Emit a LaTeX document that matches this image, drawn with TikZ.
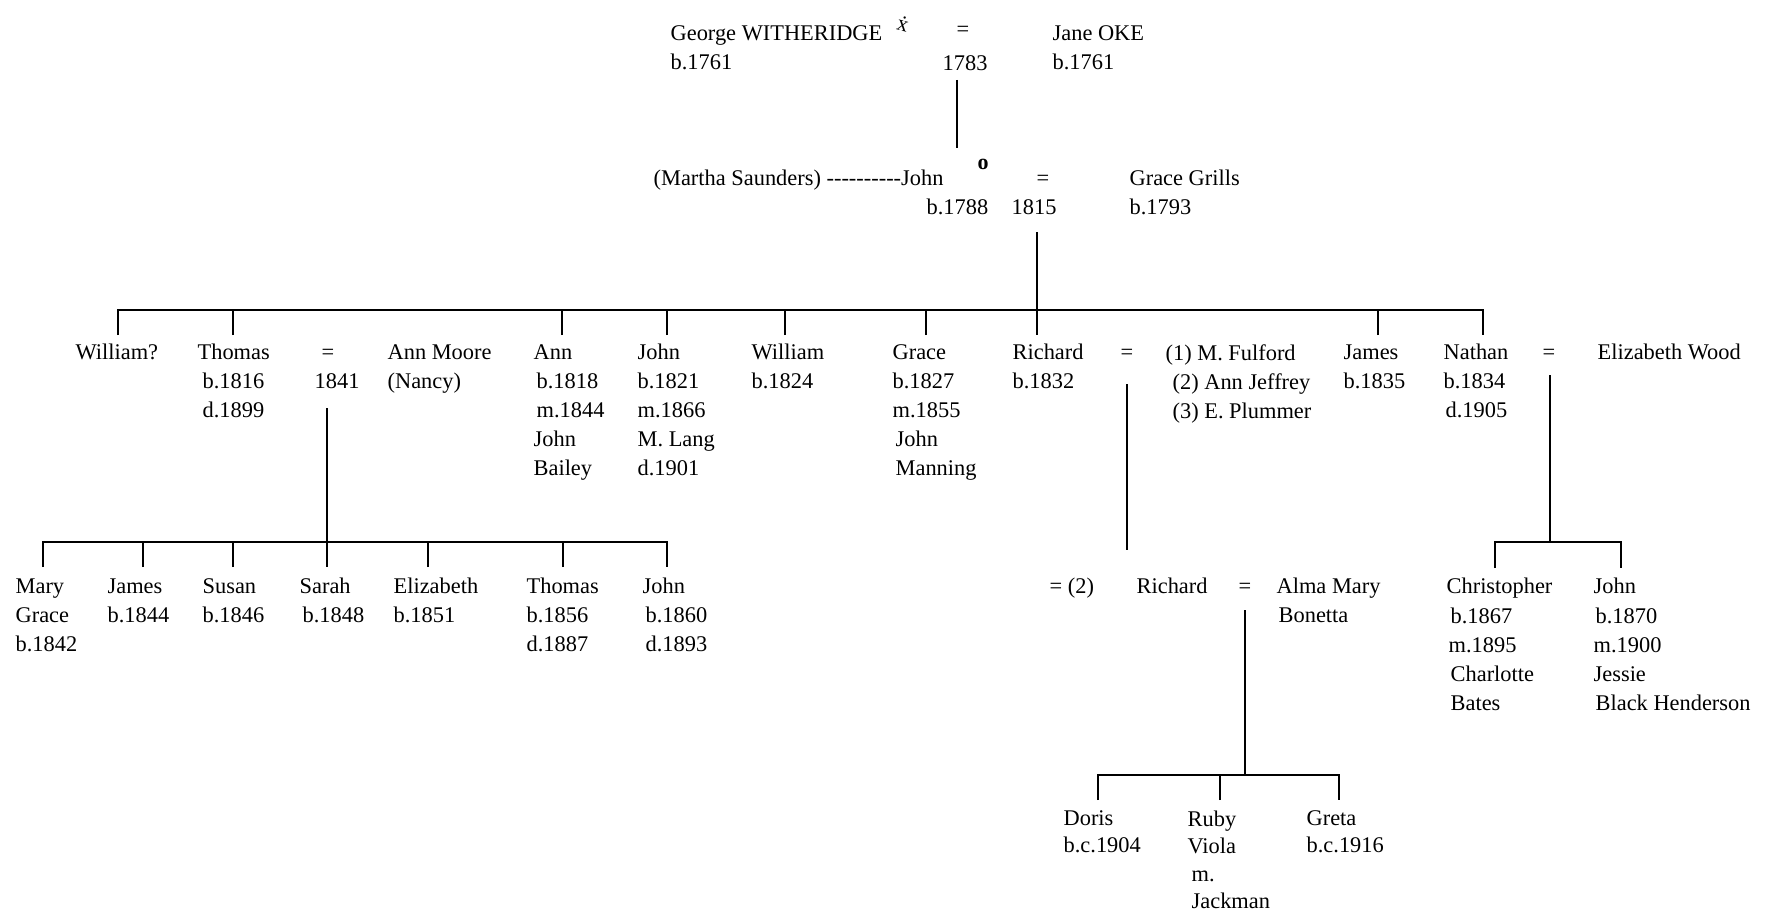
\documentclass[tikz,border=0pt]{standalone}
\usepackage{fontspec}
\setmainfont{Liberation Serif}
\newcommand\dashrun{\hbox{-}\hbox{-}\hbox{-}\hbox{-}\hbox{-}\hbox{-}\hbox{-}\hbox{-}\hbox{-}\hbox{-}}

\begin{document}
\begin{tikzpicture}[x=1pt,y=-1pt,line width=1.3pt,
  every node/.style={font=\fontsize{22.4}{29}\selectfont,inner sep=0pt},
  person/.style={anchor=north west,align=left,yshift=15.2pt},
  tight/.style={font=\fontsize{22.4}{27.5}\selectfont},
  eq/.style={anchor=base},
  hand/.style={font=\fontsize{22}{22}\selectfont}]
\useasboundingbox (0,0) rectangle (1766,915);

% George = Jane
\node[person] (george) at (670,40) {George WITHERIDGE\\b.1761};
\node[hand,rotate=-15] (xmark) at (903,24) {\.{x}};
\node[eq] (wed0) at (963,37) {=};
\node[person] (y1783) at (942,70) {1783};
\node[person] (jane) at (1052,40) {Jane OKE\\b.1761};

% John = Grace Grills
\node[person] (martha) at (653,185) {(Martha Saunders) \dashrun John};
\node[hand] (omark) at (983,164) {\textbf{o}};
\node[eq] (wed1) at (1043,185) {=};
\node[person] (john0) at (926,214) {b.1788};
\node[person] (y1815) at (1011,214) {1815};
\node[person] (grace0) at (1129,185) {Grace Grills\\b.1793};

% their children
\node[person] (william0) at (75,359) {William?};
\node[person] (thomas) at (197,359) {Thomas\\\hspace{5pt}b.1816\\\hspace{5pt}d.1899};
\node[eq] (wed2) at (328,359) {=};
\node[person] (y1841) at (314,388) {1841};
\node[person] (annmoore) at (387,359) {Ann Moore\\(Nancy)};
\node[person] (ann) at (533,359) {Ann\\\hspace{3pt}b.1818\\\hspace{3pt}m.1844\\John\\Bailey};
\node[person] (john1) at (637,359) {John\\b.1821\\m.1866\\M. Lang\\d.1901};
\node[person] (william1) at (751,359) {William\\b.1824};
\node[person] (grace1) at (892,359) {Grace\\b.1827\\m.1855\\\hspace{3pt}John\\\hspace{3pt}Manning};
\node[person] (richard) at (1012,359) {Richard\\b.1832};
\node[eq] (wed3) at (1127,359) {=};
\node[person] (wives) at (1165,359) {(1) M. Fulford\\\hspace{7pt}(2) Ann Jeffrey\\\hspace{7pt}(3) E. Plummer};
\node[person] (james1) at (1343,359) {James\\b.1835};
\node[person] (nathan) at (1443,359) {Nathan\\b.1834\\\hspace{2pt}d.1905};
\node[eq] (wed5) at (1549,359) {=};
\node[person] (elizabeth) at (1597,359) {Elizabeth Wood};

% Thomas' children
\node[person] (mary) at (15,593) {Mary\\Grace\\b.1842};
\node[person] (james2) at (107,593) {James\\b.1844};
\node[person] (susan) at (202,593) {Susan\\b.1846};
\node[person] (sarah) at (299,593) {Sarah\\\hspace{3pt}b.1848};
\node[person] (elizabeth2) at (393,593) {Elizabeth\\b.1851};
\node[person] (thomas2) at (526,593) {Thomas\\b.1856\\d.1887};
\node[person] (john2) at (642,593) {John\\\hspace{3pt}b.1860\\\hspace{3pt}d.1893};

% Richard's second marriage
\node[person] (second) at (1049,593) {= (2)};
\node[person] (richard2) at (1136,593) {Richard};
\node[eq] (wed4) at (1245,593) {=};
\node[person] (alma) at (1276,593) {Alma Mary\\\hspace{2pt}Bonetta};

% Nathan's children
\node[person] (christopher) at (1446,593) {Christopher\\\hspace{4pt}b.1867\\\hspace{2pt}m.1895\\\hspace{4pt}Charlotte\\\hspace{4pt}Bates};
\node[person] (john3) at (1593,593) {John\\\hspace{2pt}b.1870\\m.1900\\Jessie\\\hspace{2pt}Black Henderson};

% Richard's children
\node[person,tight] (doris) at (1063,825) {Doris\\b.c.1904};
\node[person,tight] (ruby) at (1187,825) {Ruby\\Viola\\\hspace{4pt}m.\\\hspace{4pt}Jackman};
\node[person,tight] (greta) at (1306,825) {Greta\\b.c.1916};

% lines
\coordinate (w0) at (957,80);
\coordinate (c0) at (957,148);
\draw (w0) -- (c0);

\coordinate (w1) at (1037,232);
\coordinate (bar1) at (0,310);
\foreach \n/\x in {wil/118,tho/233,ann/562,joh/667,wiy/785,gra/926,ric/1037,jam/1378,nat/1483}
  \coordinate (k\n) at (\x,335);
\draw (w1) -- (kric);
\draw (kwil) -- (kwil |- bar1) -- (knat |- bar1) -- (knat);
\foreach \n in {tho,ann,joh,wiy,gra,jam} \draw (k\n) -- (k\n |- bar1);

\coordinate (w2) at (327,408);
\coordinate (bar2) at (0,542);
\foreach \n/\x in {mar/43,jas/143,sus/233,sar/327,eli/428,thm/563,jon/667}
  \coordinate (k\n) at (\x,567);
\draw (w2) -- (ksar);
\draw (kmar) -- (kmar |- bar2) -- (kjon |- bar2) -- (kjon);
\foreach \n in {jas,sus,eli,thm} \draw (k\n) -- (k\n |- bar2);

\coordinate (w3) at (1127,384);
\coordinate (c3) at (1127,550);
\draw (w3) -- (c3);

\coordinate (w4) at (1245,610);
\coordinate (bar4) at (0,775);
\foreach \n/\x in {dor/1098,rub/1220,gre/1339}
  \coordinate (k\n) at (\x,800);
\draw (w4) -- (w4 |- bar4);
\draw (kdor) -- (kdor |- bar4) -- (kgre |- bar4) -- (kgre);
\draw (krub) -- (krub |- bar4);

\coordinate (w5) at (1550,375);
\coordinate (bar5) at (0,542);
\foreach \n/\x in {chr/1495,jhn/1621}
  \coordinate (k\n) at (\x,568);
\draw (w5) -- (w5 |- bar5);
\draw (kchr) -- (kchr |- bar5) -- (kjhn |- bar5) -- (kjhn);
\end{tikzpicture}
\end{document}
